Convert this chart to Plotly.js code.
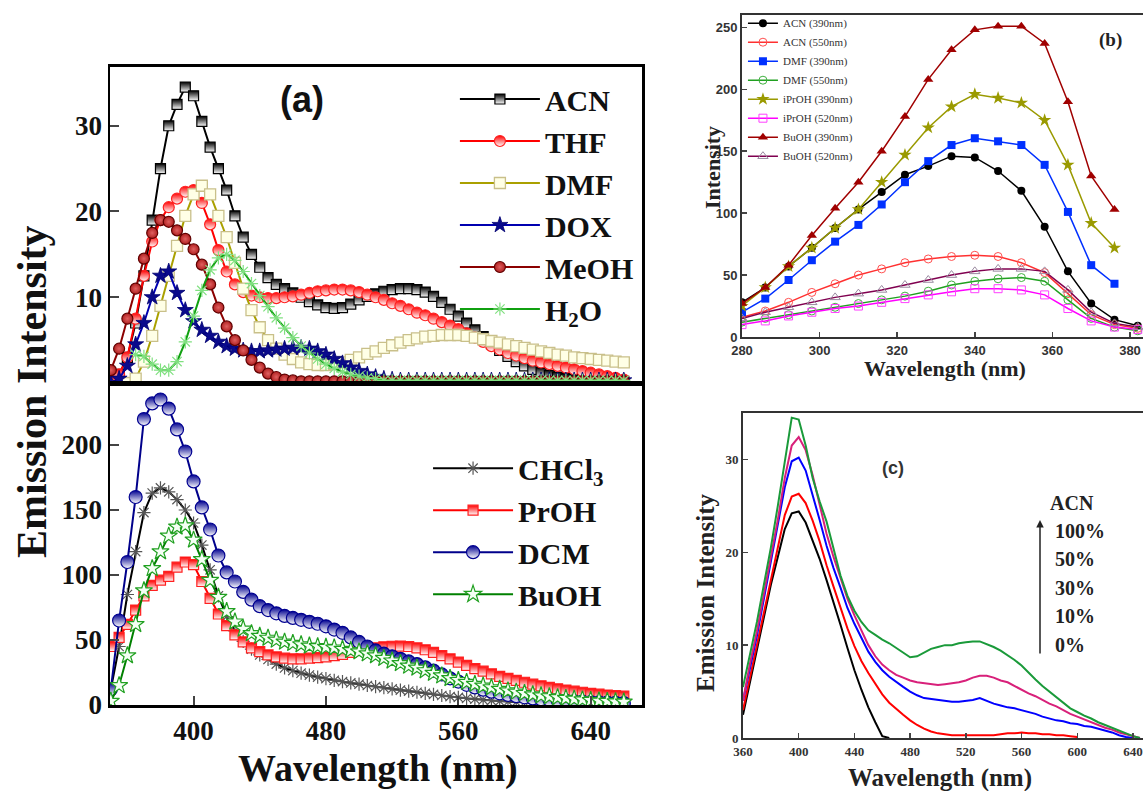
<!DOCTYPE html>
<html>
<head>
<meta charset="utf-8">
<script src="https://cdn.plot.ly/plotly-3.0.1.min.js"></script>
<style>html,body{margin:0;padding:0;background:#fff;}#chart{width:1143px;height:791px;}</style>
</head>
<body>
<div id="chart"></div>
<script>
// ---------- Panel (a): emission spectra in different solvents ----------
const wlA = [350,355,360,365,370,375,380,385,390,395,400,405,410,415,420,425,430,435,440,445,450,455,460,465,470,475,480,485,490,495,500,505,510,515,520,525,530,535,540,545,550,555,560,565,570,575,580,585,590,595,600,605,610,615,620,625,630,635,640,645,650,655,660];

const acnA = [0.3,1,3,7,12.5,19,25,30,32.5,34.5,33.5,30.5,27.5,25,22.5,19.5,17,15,13.5,12.3,11.5,11,10.5,10,9.5,9.1,8.8,8.7,8.8,9.2,9.7,10.1,10.4,10.7,10.9,11,11,10.9,10.6,10.1,9.4,8.6,7.8,7,6.2,5.4,4.6,3.8,3.1,2.5,2,1.6,1.2,0.9,0.7,0.5,0.4,0.3,0.3,0.2,0.2,0.2,0.2];
const thfA = [0.2,1,3,7.5,12.5,16.5,19,20.5,21.5,22.3,22.5,21,18.5,15.5,13,11.5,10.6,10.2,10,9.9,9.9,10,10.1,10.3,10.5,10.7,10.8,10.9,10.9,10.8,10.6,10.3,10,9.7,9.3,9,8.6,8.2,7.9,7.5,7.1,6.7,6.3,5.8,5.3,4.8,4.3,3.9,3.5,3.2,2.9,2.6,2.4,2.2,2,1.8,1.6,1.4,1.2,1,0.8,0.6,0.4];
const dmfA = [null,null,0,0.5,2.5,5.5,9,12.5,16,19.5,22,23,22,19.5,17,14,11,8.5,6.5,5,4,3.3,2.8,2.4,2.2,2.1,2.1,2.2,2.4,2.7,3,3.4,3.7,4.1,4.4,4.7,5,5.2,5.4,5.5,5.6,5.6,5.6,5.5,5.3,5.1,4.9,4.7,4.5,4.3,4.1,3.9,3.7,3.5,3.3,3.2,3,2.9,2.8,2.7,2.6,2.5,2.4];
const doxA = [0,0.5,2,4.5,7,10,12.5,13,10.5,8.5,7.2,6.2,5.5,4.8,4.3,4,3.8,3.7,3.7,3.8,3.9,4,4.1,4.1,4,3.7,3.3,2.8,2.3,1.8,1.4,1,0.7,0.5,0.4,0.3,0.3,0.3,0.3,0.3,0.3,0.3,0.3,0.3,0.3,0.3,0.3,0.3,0.3,0.3,0.3,0.3,0.3,0.3,0.3,0.3,0.3,0.3,0.3,0.3,0.3,0.3,0.3];
const meohA = [1.5,4,7.5,11,14.5,17.5,19,18.8,17.8,16.8,15.6,13.8,11.5,8.8,6.6,5,3.8,2.7,1.8,1.1,0.7,0.4,0.3,0.2,0.2,0.2,0.2,0.2,0.2,0.2,0.2,0.2,0.2,0.2,0.2,0.2,0.2,0.2,0.2,0.2,0.2,0.2,0.2,0.2,0.2,0.2,0.2,0.2,0.2,0.2,0.2,0.2,0.2,0.2,0.2,0.2,0.2,0.2,0.2,0.2,0.2,0.2,0.2];
const h2oA = [null,null,null,3.3,3.1,2.2,1.5,1.5,2.5,4.8,7.8,10.8,13.2,14.6,15,14.3,13,11.6,10.2,8.9,7.6,6.4,5.3,4.3,3.5,2.8,2.2,1.7,1.3,1,0.8,0.6,0.5,0.3,0.3,0.3,0.3,0.3,0.3,0.3,0.3,0.3,0.3,0.3,0.3,0.3,0.3,0.3,0.3,0.3,0.3,0.3,0.3,0.3,0.3,0.3,0.3,0.3,0.3,0.3,0.3,0.3,0.3];

const chcl3A = [12,45,85,118,148,163,167,164,158,150,140,123,104,84,68,57,49,43,38.5,35,31.5,28.5,26.5,24.5,23,21.5,20.3,19,18,17,16,15,14.2,13.3,12.4,11.5,10.7,9.8,9,8.1,7.3,6.5,5.8,5.1,4.5,3.9,3.4,3,2.6,2.3,2,1.7,1.5,1.3,1.1,0.9,0.8,0.7,0.6,0.5,0.4,0.3,0.2];
const prohA = [45,52,62,73,84,92,96,99,106,110,108,95,82,70,61,54,48.5,44,41,38.5,37,36,35.5,35.5,36,36.5,37,38,39,40.5,42,43,44,44.8,45.2,45.3,45,44,42.5,40.5,38,35.5,33,30.5,28,26,24,22,20.5,19,17.5,16,14.8,13.6,12.5,11.5,10.6,9.8,9,8.3,7.7,7.2,6.8];
const dcmA = [12,65,110,160,220,232,235,228,212,195,172,152,135,115,102,95,87,81,76,73,70.5,68.5,67,65.5,64,62.5,60.5,58,55.5,52,48.5,45,42,39.5,37.5,35.5,33.5,31.5,29,26.5,23.5,20.5,18,15.5,13.5,11.8,10.3,9,7.8,6.8,5.9,5.1,4.5,4,3.6,3.2,2.9,2.6,2.3,2.1,1.9,1.7,1.5];
const buohA = [3,15,38,62,88,105,118,130,137,138,127,112,96,83,72,64,58.5,55,53,51.5,50,48.5,47.5,46.5,45.5,45,44.5,44,43,42,41,39.5,38,36,34,32,30,28.5,26.5,24.5,22.5,20.5,19,17.5,16,14.7,13.4,12.2,11,10,9,8,7.2,6.5,5.8,5.2,4.6,4.1,3.6,3.2,2.9,2.6,2.4];

// ---------- Panel (b): intensity vs excitation wavelength ----------
const wlB = [280,286,292,298,304,310,316,322,328,334,340,346,352,358,364,370,376,382];
const acn390 = [28,40,57,72,88,103,117,131,138,146,145,134,118,89,53,27,14,9];
const acn550 = [16,21,28,36,43,50,55,60,63,65,66,65,60,52,35,18,10,7];
const dmf390 = [20,31,46,62,77,90.5,107,125,142,155,160.5,158,155,139,101,58,43,null];
const dmf550 = [12,15,18,21,24,27,30,33,37,42,45,47,48,45,30,15,8,5];
const iproh390 = [25,40,57,72,88,103,125,147,169,186,196,193,189,175,139,92,72,null];
const iproh520 = [10,13,17,20,23,25,28,31,34,36.5,39,39,38,34,23,13,8,6];
const buoh390 = [27,40,58,82,104,125,150,178,208,232,248,251,251,237,190,130,103,null];
const buoh520 = [15,20,24,28,32,35,38,42,46,50,53,55,55,53,38,20,11,8];

// ---------- Panel (c): ACN fraction series ----------
const wlC = [360,365,370,375,380,385,390,395,400,405,410,415,420,425,430,435,440,445,450,455,460,465,470,475,480,485,490,495,500,505,510,515,520,525,530,535,540,545,550,555,560,565,570,575,580,585,590,595,600,605,610,615,620,625,630,635,640,645];
const c0 = [2.5,6,9.5,13,16.5,19.5,22.5,24.2,24.4,23.2,21.3,19.3,17,14.7,12.2,9.7,7.3,5.2,3.3,1.7,0.2,0,null,null,null,null,null,null,null,null,null,null,null,null,null,null,null,null,null,null,null,null,null,null,null,null,null,null,null,null,null,null,null,null,null,null,null,null];
const c10 = [3,6.5,10,13.5,17,20.5,24,26,26.3,25.3,23.4,21.2,18.6,16.3,14,11.8,9.9,8.3,7,5.8,4.7,3.8,3.1,2.5,1.9,1.4,1,0.7,0.5,0.4,0.3,0.3,0.3,0.3,0.3,0.3,0.3,0.4,0.5,0.5,0.6,0.5,0.5,0.4,0.4,0.3,0.3,0.2,0.1,null,null,null,null,null,null,null,null,null];
const c30 = [4,7.5,11,15,19,23,27,29.8,30.2,28.8,26.2,23.5,20.7,18.3,16.2,14,12.3,10.8,9.3,8.2,7.3,6.6,6,5.5,5,4.6,4.3,4.2,4.1,4,3.9,3.9,4,4.1,4.3,4,3.7,3.5,3.3,3.2,3,2.8,2.6,2.3,2.1,1.9,1.8,1.6,1.5,1.3,1.2,1,0.8,0.6,0.3,0.1,0,null];
const c50 = [4,8,11.5,15.5,19.5,23.5,28,31.5,32.4,31,28.3,25,22,19.5,17.2,15,13.2,11.5,10,8.8,7.9,7.3,6.8,6.5,6.2,6,5.9,5.8,5.7,5.8,5.9,6,6.2,6.5,6.7,6.7,6.5,6.2,6,5.6,5.2,4.8,4.5,4.1,3.7,3.4,3,2.6,2.3,2,1.7,1.4,1.1,0.9,0.6,0.4,0.2,0];
const c100 = [5.5,9,12.5,16.5,20.5,25,30,34.5,34.3,31.5,28,25.5,23.3,20.5,17.5,15.3,13.7,12.5,11.6,11.1,10.6,10.2,9.7,9.2,8.7,8.8,9.2,9.6,9.8,10,10,10.2,10.3,10.4,10.4,10.1,9.8,9.4,8.9,8.4,7.8,7,6.3,5.6,5,4.4,3.8,3.2,2.8,2.4,2.1,1.7,1.4,1.1,0.8,0.5,0.2,0];

const SERIF = 'Liberation Serif, Times New Roman, serif';
const SANS = 'Liberation Sans, Arial, sans-serif';

function aTrace(name, y, xa, ya, leg, lineColor, marker) {
  return {type:'scatter', mode:'lines+markers', name:name, x:wlA, y:y, xaxis:xa, yaxis:ya,
    legend:leg, legendgroup:name, line:{color:lineColor, width:2}, marker:marker, connectgaps:false, cliponaxis:true};
}
function bTrace(name, y, lineColor, marker) {
  return {type:'scatter', mode:'lines+markers', name:name, x:wlB, y:y, xaxis:'x3', yaxis:'y3',
    legend:'legend3', line:{color:lineColor, width:1.5}, marker:marker};
}
function cTrace(name, y, color) {
  return {type:'scatter', mode:'lines', name:name, x:wlC, y:y, xaxis:'x4', yaxis:'y4',
    showlegend:false, line:{color:color, width:2}};
}

const traces = [
  aTrace('ACN', acnA, 'x', 'y', 'legend', '#000000',
    {symbol:'square', size:10, color:'#000000', gradient:{type:'vertical', color:'#ffffff'}, line:{color:'#000', width:1.2}}),
  aTrace('THF', thfA, 'x', 'y', 'legend', '#ff0000',
    {symbol:'circle', size:11, color:'#ff0000', gradient:{type:'vertical', color:'#ffffff'}, line:{color:'#ff2020', width:1.2}}),
  aTrace('DMF', dmfA, 'x', 'y', 'legend', '#aaa000',
    {symbol:'square', size:11, color:'#ffffe6', line:{color:'#c9c08a', width:1.3}}),
  aTrace('DOX', doxA, 'x', 'y', 'legend', '#0000b0',
    {symbol:'star', size:12, color:'#0a0a8c', line:{color:'#000070', width:0.8}}),
  aTrace('MeOH', meohA, 'x', 'y', 'legend', '#8b0000',
    {symbol:'circle', size:11, color:'#b02020', gradient:{type:'radial', color:'#e06060'}, line:{color:'#600000', width:1.2}}),
  aTrace('H<sub>2</sub>O', h2oA, 'x', 'y', 'legend', '#10a010',
    {symbol:'asterisk-open', size:11, color:'#80e080', line:{color:'#70d070', width:1.2}}),

  aTrace('CHCl<sub>3</sub>', chcl3A, 'x2', 'y2', 'legend2', '#000000',
    {symbol:'asterisk-open', size:11, color:'#555555', line:{color:'#555555', width:1.2}}),
  aTrace('PrOH', prohA, 'x2', 'y2', 'legend2', '#ff0000',
    {symbol:'square', size:10, color:'#ff0000', gradient:{type:'vertical', color:'#ffffff'}, line:{color:'#ff2020', width:1.2}}),
  aTrace('DCM', dcmA, 'x2', 'y2', 'legend2', '#00008b',
    {symbol:'circle', size:13, color:'#000090', gradient:{type:'vertical', color:'#ffffff'}, line:{color:'#000090', width:1.2}}),
  aTrace('BuOH', buohA, 'x2', 'y2', 'legend2', '#008000',
    {symbol:'star', size:13, color:'#f4fff4', line:{color:'#20a020', width:1.2}}),

  bTrace('ACN (390nm)', acn390, '#000000', {symbol:'circle', size:8, color:'#000000'}),
  bTrace('ACN (550nm)', acn550, '#ff3030', {symbol:'circle-open', size:8, color:'#ff5050', line:{width:1}}),
  bTrace('DMF (390nm)', dmf390, '#0030ff', {symbol:'square', size:8, color:'#0030ff'}),
  bTrace('DMF (550nm)', dmf550, '#20a020', {symbol:'circle-open', size:8, color:'#40b040', line:{width:1}}),
  bTrace('iPrOH (390nm)', iproh390, '#9a9a00', {symbol:'star', size:10, color:'#9a9a00'}),
  bTrace('iPrOH (520nm)', iproh520, '#ff00ff', {symbol:'square-open', size:8, color:'#ff40ff', line:{width:1}}),
  bTrace('BuOH (390nm)', buoh390, '#a00000', {symbol:'triangle-up', size:9, color:'#a00000'}),
  bTrace('BuOH (520nm)', buoh520, '#800050', {symbol:'triangle-up-open', size:9, color:'#9a8aa0', line:{width:1}}),

  cTrace('0%', c0, '#000000'),
  cTrace('10%', c10, '#ff0000'),
  cTrace('30%', c30, '#0000ff'),
  cTrace('50%', c50, '#d8207a'),
  cTrace('100%', c100, '#1a9a3a')
];

const frameA = {showline:true, mirror:true, linecolor:'#000', linewidth:2.5, showgrid:false, zeroline:false};
const frameBC = {showline:true, linecolor:'#333', linewidth:2, showgrid:false, zeroline:false};
const tickA = {family:SERIF, size:27, color:'#111', weight:'bold'};

function note(px, py, text, font, extra) {
  return Object.assign({xref:'paper', yref:'paper', x:px/1143, y:1-py/791, text:text, showarrow:false,
    xanchor:'center', yanchor:'middle', font:font}, extra || {});
}

const layout = {
  width:1143, height:791, margin:{l:0, r:0, t:0, b:0}, autosize:false,
  paper_bgcolor:'#ffffff', plot_bgcolor:'#ffffff', showlegend:true,
  xaxis: Object.assign({domain:[0.09624,0.56168], anchor:'y', range:[349.5,671], showticklabels:false, ticks:''}, frameA),
  yaxis: Object.assign({domain:[0.5158,0.9153], anchor:'x', range:[0,36.85], tickvals:[10,20,30], ticks:'inside', ticklen:9, tickwidth:2, tickfont:tickA}, frameA),
  xaxis2: Object.assign({domain:[0.09624,0.56168], anchor:'y2', range:[349.5,671], tickvals:[400,480,560,640], ticks:'inside', ticklen:9, tickwidth:2, tickfont:tickA}, frameA),
  yaxis2: Object.assign({domain:[0.10872,0.5158], anchor:'x2', range:[0,247.7], tickvals:[0,50,100,150,200], ticks:'inside', ticklen:9, tickwidth:2, tickfont:tickA}, frameA),
  xaxis3: Object.assign({domain:[0.64917,1], anchor:'y3', range:[280,383.35], dtick:20, tick0:280, ticks:'inside', ticklen:5, tickwidth:1.5, mirror:true,
    tickfont:{family:SANS, size:13, color:'#333', weight:'bold'}}, frameBC),
  yaxis3: Object.assign({domain:[0.57396,0.98104], anchor:'x3', range:[0,260], dtick:50, ticks:'inside', ticklen:5, tickwidth:1.5,
    tickfont:{family:SANS, size:13, color:'#333', weight:'bold'}}, frameBC),
  xaxis4: Object.assign({domain:[0.65004,1], anchor:'y4', range:[360,647.2], dtick:40, tick0:360, ticks:'inside', ticklen:5, tickwidth:1.5, mirror:true,
    tickfont:{family:SERIF, size:13, color:'#333', weight:'bold'}}, frameBC),
  yaxis4: Object.assign({domain:[0.067,0.47788], anchor:'x4', range:[0,35], dtick:10, ticks:'inside', ticklen:5, tickwidth:1.5,
    tickfont:{family:SERIF, size:13, color:'#333', weight:'bold'}}, frameBC),
  legend: {x:0.398, y:0.9077, xanchor:'left', yanchor:'top', bgcolor:'rgba(0,0,0,0)', itemwidth:80, tracegroupgap:0,
    font:{family:SERIF, size:30, color:'#111', weight:'bold'}},
  legend2: {x:0.3745, y:0.441, xanchor:'left', yanchor:'top', bgcolor:'rgba(0,0,0,0)', itemwidth:80, tracegroupgap:0,
    font:{family:SERIF, size:30, color:'#111', weight:'bold'}},
  legend3: {x:0.650, y:0.989, xanchor:'left', yanchor:'top', bgcolor:'rgba(0,0,0,0)', itemwidth:30, tracegroupgap:0,
    font:{family:SERIF, size:11, color:'#333'}},
  annotations: [
    note(302, 100, '(a)', {family:SANS, size:36, color:'#111', weight:'bold'}),
    note(1110, 40, '(b)', {family:SERIF, size:19, color:'#222', weight:'bold'}),
    note(893, 468, '(c)', {family:SANS, size:18, color:'#333', weight:'bold'}),
    note(32, 392, 'Emission Intensity', {family:SERIF, size:42, color:'#111', weight:'bold'}, {textangle:-90}),
    note(378, 768, 'Wavelength (nm)', {family:SERIF, size:38, color:'#111', weight:'bold'}),
    note(712, 168, 'Intensity', {family:SERIF, size:22, color:'#222', weight:'bold'}, {textangle:-90}),
    note(945, 369, 'Wavelength (nm)', {family:SERIF, size:22, color:'#222', weight:'bold'}),
    note(705, 593, 'Emission Intensity', {family:SERIF, size:25, color:'#222', weight:'bold'}, {textangle:-90}),
    note(940, 778, 'Wavelength (nm)', {family:SERIF, size:25, color:'#222', weight:'bold'}),
    note(1048, 503, 'ACN', {family:SERIF, size:20, color:'#222', weight:'bold'}, {xanchor:'left'}),
    note(1053, 531, '100%', {family:SERIF, size:20, color:'#222', weight:'bold'}, {xanchor:'left'}),
    note(1053, 559, '50%', {family:SERIF, size:20, color:'#222', weight:'bold'}, {xanchor:'left'}),
    note(1053, 588, '30%', {family:SERIF, size:20, color:'#222', weight:'bold'}, {xanchor:'left'}),
    note(1053, 616, '10%', {family:SERIF, size:20, color:'#222', weight:'bold'}, {xanchor:'left'}),
    note(1053, 645, '0%', {family:SERIF, size:20, color:'#222', weight:'bold'}, {xanchor:'left'}),
    {xref:'paper', yref:'paper', x:1040/1143, y:1-520/791, ax:0, ay:135, text:'', showarrow:true, arrowhead:2, arrowsize:1, arrowwidth:1.5, arrowcolor:'#222'}
  ]
};

Plotly.newPlot('chart', traces, layout, {displayModeBar:false, staticPlot:true});
</script>
</body>
</html>
